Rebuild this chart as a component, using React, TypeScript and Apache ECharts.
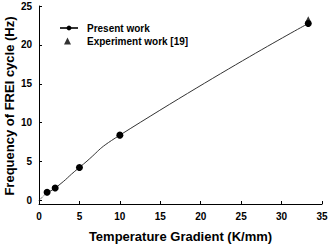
import React, { useEffect, useRef } from "react";
import * as echarts from "echarts";

const gradient = [1, 2, 5, 10, 33.3];
const presentWork = [1.05, 1.6, 4.25, 8.4, 22.75];
const originLink = [[0, 0], [1, 1.05]];
const expGradient = [33.3];
const experimentWork = [23.3];
const xTicks = [0, 5, 10, 15, 20, 25, 30, 35];
const yTicks = [0, 5, 10, 15, 20, 25];
const yAxisTitle = "Frequency of FREI cycle (Hz)";

const FONT = "Liberation Sans, Arial, sans-serif";
const legendText = { fontFamily: FONT, fontWeight: "bold", fontSize: 10, color: "#000" };

export default function App() {
  const ref = useRef<HTMLDivElement>(null);
  useEffect(() => {
    const chart = echarts.init(ref.current!, null, { renderer: "svg" });
    chart.setOption({
      animation: false,
      backgroundColor: "#ffffff",
      textStyle: { fontFamily: FONT },
      grid: { left: 39, right: 9, top: 6, bottom: 42, outerBoundsMode: "none", containLabel: false },
      graphic: [
        {
          type: "text",
          x: 9,
          y: 106,
          rotation: Math.PI / 2,
          style: {
            text: yAxisTitle,
            fontFamily: FONT,
            fontWeight: "bold",
            fontSize: 13,
            fill: "#000",
            align: "center",
            verticalAlign: "middle",
          },
        },
      ],
      legend: [
        {
          orient: "vertical",
          left: 54,
          top: 18,
          itemWidth: 18,
          itemHeight: 6,
          textStyle: { ...legendText, padding: [0, 0, 0, 4] },
          data: [{ name: "Present work" }],
        },
        {
          orient: "vertical",
          left: 59,
          top: 31,
          itemWidth: 7,
          itemHeight: 7,
          textStyle: { ...legendText, padding: [0, 0, 0, 11] },
          data: [{ name: "Experiment work [19]" }],
        },
      ],
      xAxis: {
        type: "value",
        min: 0,
        max: 35,
        interval: 5,
        name: "Temperature Gradient (K/mm)",
        nameLocation: "middle",
        nameGap: 26,
        nameTextStyle: { fontFamily: FONT, fontWeight: "bold", fontSize: 13, color: "#000" },
        axisLine: { onZero: false, lineStyle: { color: "#000", width: 1 } },
        axisTick: { inside: true, length: 3, lineStyle: { color: "#000" } },
        axisLabel: {
          margin: 7,
          fontFamily: FONT,
          fontWeight: "bold",
          fontSize: 10,
          color: "#000",
          customValues: xTicks,
        },
        splitLine: { show: false },
      },
      yAxis: {
        type: "value",
        min: -0.45,
        max: 25,
        axisLine: { show: true, lineStyle: { color: "#000", width: 1 } },
        axisTick: { show: true, inside: true, length: 3, lineStyle: { color: "#000" }, customValues: yTicks },
        axisLabel: {
          margin: 7,
          fontFamily: FONT,
          fontWeight: "bold",
          fontSize: 10,
          color: "#000",
          customValues: yTicks,
        },
        splitLine: { show: false },
      },
      series: [
        {
          name: "origin",
          type: "line",
          data: originLink,
          symbol: "none",
          lineStyle: { color: "#333", width: 1, type: "dotted" },
          silent: true,
        },
        {
          name: "Present work",
          type: "line",
          data: gradient.map((g, i) => [g, presentWork[i]]),
          smooth: 0.6,
          symbol: "circle",
          symbolSize: 7,
          itemStyle: { color: "#000" },
          lineStyle: { color: "#333", width: 1 },
          z: 3,
        },
        {
          name: "Experiment work [19]",
          type: "scatter",
          data: expGradient.map((g, i) => [g, experimentWork[i]]),
          symbol: "triangle",
          symbolSize: 6,
          itemStyle: { color: "#000" },
          z: 4,
        },
      ],
    });
    return () => chart.dispose();
  }, []);
  return (
    <div
      ref={ref}
      style={{ position: "fixed", left: 0, top: 0, width: 331, height: 246 }}
    />
  );
}
